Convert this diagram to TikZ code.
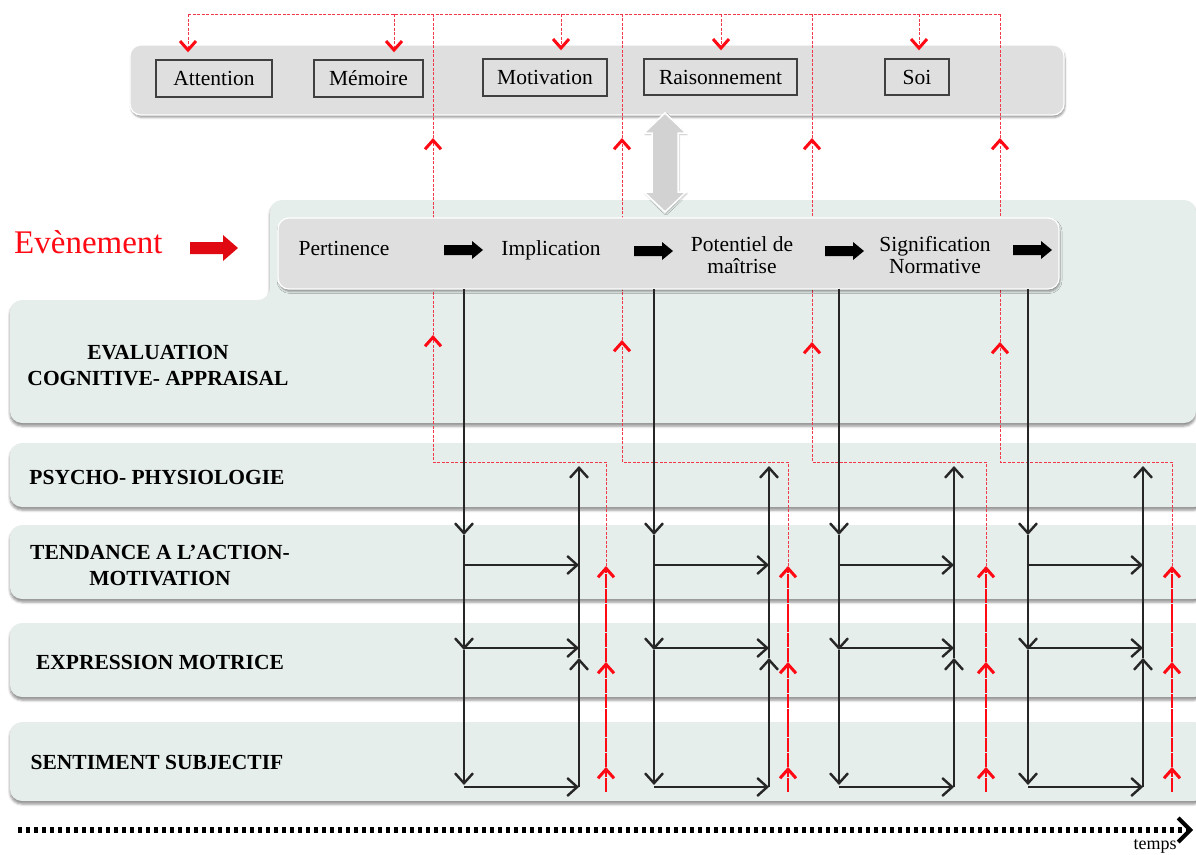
\documentclass[tikz,border=0pt]{standalone}
\usepackage{fontspec}
\setmainfont{Liberation Serif}
\usetikzlibrary{arrows.meta,shadows.blur}
\definecolor{bandgreen}{HTML}{E6EEEB}
\definecolor{boxgray}{HTML}{DFDFDF}
\definecolor{arrowred}{HTML}{FF0A14}
\definecolor{dashred}{HTML}{F03A4C}
\definecolor{dblgray}{HTML}{D2D2D2}
\tikzset{
  band/.style={fill=bandgreen, draw=none, rounded corners=12pt,
    blur shadow={shadow xshift=0pt, shadow yshift=-3pt, shadow blur radius=2.5pt, shadow opacity=45}},
  panel/.style={fill=boxgray, draw=white, line width=1.2pt, rounded corners=11pt,
    blur shadow={shadow xshift=1pt, shadow yshift=-2.5pt, shadow blur radius=2pt, shadow opacity=40}},
  facbox/.style={draw=black!75, line width=1.4pt, fill=boxgray, inner sep=0pt,
    text height=14.6pt, text depth=0pt, font=\fontsize{21.5}{24}\selectfont},
  lbl/.style={font=\bfseries\fontsize{21.5}{26}\selectfont, align=center},
  proc/.style={font=\fontsize{21.5}{22}\selectfont, align=center},
  bl/.style={draw=black!85, line width=1.3pt},
  btip/.style={-{Straight Barb[length=10pt,width=18pt,line width=2.4pt]}},
  rd/.style={draw=dashred, line width=1pt, dash pattern=on 3pt off 1.5pt},
  rtip/.style={-{Straight Barb[length=9pt,width=16pt,line width=3pt,color=arrowred]}},
  ru/.style={draw=arrowred, line width=1.8pt, dash pattern=on 14pt off 0.8pt},
  blockarr/.pic={\fill[black] (0,-5) -- (28,-5) -- (28,-9) -- (39,0) -- (28,9) -- (28,5) -- (0,5) -- cycle;},
  redblock/.pic={\fill[arrowred!88!black] (0,-6) -- (33,-6) -- (33,-13) -- (48,0) -- (33,13) -- (33,6) -- (0,6) -- cycle;}
}
\begin{document}
\begin{tikzpicture}[x=1pt,y=-1pt]
\useasboundingbox (0,0) rectangle (1196,854);

% ---------- background bands ----------
\path[band] (10,423) -- (10,300) -- (270,300) -- (270,200) -- (1196,200) -- (1196,423) -- cycle;
\path[band] (10,443) rectangle (1206,507);
\path[band] (10,525) rectangle (1206,599);
\path[band] (10,623) rectangle (1206,697);
\path[band] (10,722) rectangle (1206,801);

% ---------- row labels ----------
\node[lbl] (evl) at (158,366) {EVALUATION\\COGNITIVE- APPRAISAL};
\node[lbl, anchor=base] (psy) at (157,484) {PSYCHO- PHYSIOLOGIE};
\node[lbl] (ten) at (160,566) {TENDANCE A L'ACTION-\\MOTIVATION};
\node[lbl, anchor=base] (exp) at (160,669) {EXPRESSION MOTRICE};
\node[lbl, anchor=base] (sen) at (157,769) {SENTIMENT SUBJECTIF};

% ---------- top panel ----------
\path[panel] (130,45) rectangle (1064,115);
\node[facbox, minimum width=116pt, minimum height=37pt] (att) at (214,78.5) {Attention};
\node[facbox, minimum width=109pt, minimum height=37pt] (mem) at (368.5,78.5) {Mémoire};
\node[facbox, minimum width=124pt, minimum height=37pt] (mot) at (545,77.5) {Motivation};
\node[facbox, minimum width=153pt, minimum height=36pt] (rai) at (720.5,77) {Raisonnement};
\node[facbox, minimum width=64pt, minimum height=36pt] (soi) at (917,77) {Soi};

% ---------- red feedback (upper part) ----------
\coordinate (tA) at (188,14);
\coordinate (tB) at (394,14);
\coordinate (tC) at (561,14);
\coordinate (tD) at (721,14);
\coordinate (tE) at (919,14);
\coordinate (tEnd) at (1000,14);
\draw[rd] (tA) -- (tEnd);
\draw[rd, rtip, shorten >=7pt] (tA) -- (tA |- att.north);
\draw[rd, rtip, shorten >=7pt] (tB) -- (tB |- mem.north);
\draw[rd, rtip, shorten >=8pt] (tC) -- (tC |- mot.north);
\draw[rd, rtip, shorten >=8pt] (tD) -- (tD |- rai.north);
\draw[rd, rtip, shorten >=8pt] (tE) -- (tE |- soi.north);

\foreach \a/\r/\ta [count=\i] in {433/606/335, 622/788/340, 812/986/342, 1000/1172/342}{
  \coordinate (rb\i) at (\r,792);
  \coordinate (r1\i) at (\r,767);
  \coordinate (r2\i) at (\r,662);
  \coordinate (r3\i) at (\r,566);
  \coordinate (rc\i) at (\r,462);
  \coordinate (ac\i) at (\a,462);
  \coordinate (am\i) at (\a,\ta);
  \coordinate (au\i) at (\a,138);
  \coordinate (at\i) at (\a,14);
  \draw[rd, rtip] (r3\i) -- (rc\i) -- (ac\i) -- (am\i);
  \draw[rd, rtip] (am\i) -- (au\i);
  \draw[rd] (au\i) -- (at\i);
  \draw[ru, rtip] (rb\i) -- (r1\i);
  \draw[ru, rtip] (r1\i) -- (r2\i);
  \draw[ru, rtip] (r2\i) -- (r3\i);
}

% ---------- double arrow ----------
\filldraw[fill=dblgray, draw=white, line width=1.5pt,
  blur shadow={shadow xshift=1pt, shadow yshift=-1.5pt, shadow blur radius=1.5pt, shadow opacity=25}]
  (665,113) -- (686,133) -- (678,133) -- (678,192) -- (686,192) -- (665,212)
  -- (644,192) -- (652,192) -- (652,133) -- (644,133) -- cycle;

% ---------- process panel ----------
\path[panel] (278,218) rectangle (1059,289);
\node[proc, anchor=base] (per) at (344,255) {Pertinence};
\node[proc, anchor=base] (imp) at (551,255) {Implication};
\node[proc] (pot) at (742,255) {Potentiel de\\maîtrise};
\node[proc] (sig) at (935,255) {Signification\\Normative};
\pic at (444,250) {blockarr};
\pic at (634,251) {blockarr};
\pic at (825,251) {blockarr};
\pic at (1013,250) {blockarr};

% ---------- Evènement ----------
\node[anchor=base west, text=arrowred, font=\fontsize{33}{36}\selectfont, inner sep=0pt] (evt) at (14,253) {Evènement};
\pic at (190,248) {redblock};

% ---------- black component arrows ----------
\foreach \d/\u [count=\i] in {464/579, 654/769, 839/954, 1028/1143}{
  \coordinate (d0\i) at (\d,289);
  \coordinate (d1\i) at (\d,535);
  \coordinate (d2\i) at (\d,650);
  \coordinate (d3\i) at (\d,785);
  \coordinate (h1\i) at (\d,565);
  \coordinate (h2\i) at (\d,648);
  \coordinate (h3\i) at (\d,787);
  \coordinate (e1\i) at (\u,565);
  \coordinate (e2\i) at (\u,648);
  \coordinate (e3\i) at (\u,787);
  \coordinate (u1\i) at (\u,658);
  \coordinate (u2\i) at (\u,466);
  \draw[bl, btip] (d0\i) -- (d1\i);
  \draw[bl, btip] (d1\i) -- (d2\i);
  \draw[bl, btip] (d2\i) -- (d3\i);
  \draw[bl, btip] (h1\i) -- (e1\i);
  \draw[bl, btip] (h2\i) -- (e2\i);
  \draw[bl, btip] (h3\i) -- (e3\i);
  \draw[bl, btip] (e3\i) -- (u1\i);
  \draw[bl, btip] (u1\i) -- (u2\i);
}

% ---------- time axis ----------
\coordinate (t0) at (18,830);
\coordinate (t1) at (1193,830);
\draw[line width=6pt, dash pattern=on 4pt off 4pt,
  -{Straight Barb[length=12pt,width=24pt,line width=4pt]}] (t0) -- (t1);
\node[anchor=base, font=\fontsize{18}{20}\selectfont, inner sep=0pt] (tps) at (1155,849) {temps};
\end{tikzpicture}
\end{document}
